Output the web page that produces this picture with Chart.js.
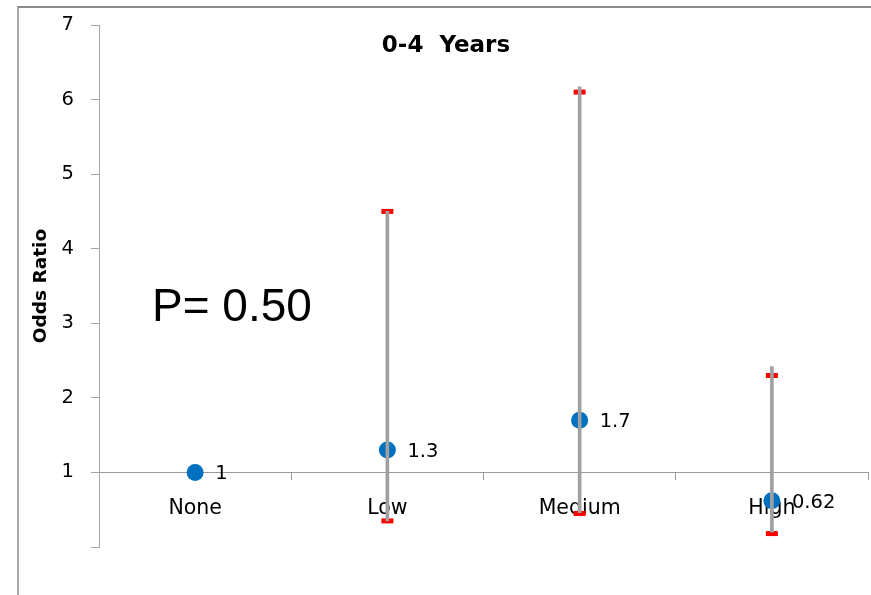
<!DOCTYPE html>
<html>
<head>
<meta charset="utf-8">
<script src="https://cdn.jsdelivr.net/npm/chart.js@4.4.1/dist/chart.umd.min.js"></script>
<style>
  html, body { margin: 0; padding: 0; background: #fff; }
  #wrap { width: 871px; height: 595px; position: relative; }
</style>
</head>
<body>
<div id="wrap"><canvas id="c" width="871" height="595"></canvas></div>
<script>
// Exposure groups and odds ratios with 95% confidence limits
const categories = ['None', 'Low', 'Medium', 'High'];
const oddsRatio = [1, 1.3, 1.7, 0.62];
const ciUpper = [null, 4.5, 6.1, 2.3];
const ciLower = [null, 0.35, 0.45, 0.18];
// high-low line extents for each group
const rangeHigh = [null, 4.5, 6.17, 2.42];
const rangeLow = [null, 0.35, 0.46, 0.2];
const yTicks = [0, 1, 2, 3, 4, 5, 6, 7];
const titleText = '0-4  Years';
const pText = 'P= 0.50';

const FONT = "'DejaVu Sans', sans-serif";

const ranges = categories.map((c, i) => rangeHigh[i] == null ? null : [rangeLow[i], rangeHigh[i]]);

const decorations = {
  id: 'decorations',
  beforeDraw(chart) {
    const ctx = chart.ctx;
    ctx.save();
    ctx.strokeStyle = '#8c8c8c';
    ctx.lineWidth = 2;
    ctx.beginPath();
    ctx.moveTo(18, 7);
    ctx.lineTo(871, 7);
    ctx.stroke();
    ctx.lineWidth = 1.5;
    ctx.beginPath();
    ctx.moveTo(18, 6);
    ctx.lineTo(18, 595);
    ctx.stroke();
    ctx.restore();
  },
  afterDraw(chart) {
    const ctx = chart.ctx;
    ctx.save();
    ctx.fillStyle = '#000';
    ctx.textAlign = 'center';
    ctx.textBaseline = 'middle';
    ctx.font = "bold 23px " + FONT;
    ctx.fillText(titleText, 446, 46);
    ctx.textAlign = 'left';
    ctx.textBaseline = 'alphabetic';
    ctx.font = "46px 'Liberation Sans', Arial, sans-serif";
    ctx.fillText(pText, 152, 321);

    // value labels beside each point
    const meta = chart.getDatasetMeta(0);
    ctx.font = "19.5px " + FONT;
    ctx.textBaseline = 'middle';
    meta.data.forEach((pt, i) => {
      ctx.fillText(String(oddsRatio[i]), pt.x + 20, pt.y + 2);
    });
    ctx.restore();
  }
};

new Chart(document.getElementById('c'), {
  data: {
    labels: categories,
    datasets: [
      {
        type: 'line',
        label: 'Odds ratio',
        data: oddsRatio,
        showLine: false,
        pointRadius: 8.5,
        pointHoverRadius: 8.5,
        pointBackgroundColor: '#0070C0',
        pointBorderColor: '#0070C0',
        pointBorderWidth: 0,
        order: 3
      },
      {
        type: 'line',
        label: 'Upper limit',
        data: ciUpper,
        showLine: false,
        pointStyle: 'line',
        pointRadius: 6,
        pointBorderColor: '#ff0000',
        pointBorderWidth: 5,
        order: 2
      },
      {
        type: 'line',
        label: 'Lower limit',
        data: ciLower,
        showLine: false,
        pointStyle: 'line',
        pointRadius: 6,
        pointBorderColor: '#ff0000',
        pointBorderWidth: 5,
        order: 2
      },
      {
        type: 'bar',
        label: 'Range',
        data: ranges,
        backgroundColor: '#a0a0a0',
        barThickness: 3,
        borderWidth: 0,
        order: 1
      }
    ]
  },
  options: {
    responsive: false,
    animation: false,
    devicePixelRatio: 1,
    layout: { autoPadding: false, padding: { left: 18, top: 25, right: 3, bottom: 48 } },
    plugins: {
      legend: { display: false },
      tooltip: { enabled: false },
      title: { display: false }
    },
    scales: {
      x: {
        type: 'category',
        position: { y: 1 },
        offset: true,
        afterFit(scale) {
          scale.height = 0;
          scale.paddingLeft = 0;
          scale.paddingRight = 0;
          scale.paddingTop = 0;
          scale.paddingBottom = 0;
        },
        grid: {
          offset: true,
          drawOnChartArea: false,
          drawTicks: true,
          tickLength: 7,
          color: '#999999'
        },
        border: { display: true, color: '#999999', width: 1 },
        ticks: {
          color: '#000',
          font: { family: FONT, size: 20.5 },
          padding: 17,
          maxRotation: 0
        }
      },
      y: {
        type: 'linear',
        position: 'left',
        min: 0,
        max: 7,
        afterFit(scale) {
          scale.width = 81;
          scale.paddingTop = 0;
          scale.paddingBottom = 0;
        },
        afterBuildTicks(scale) { scale.ticks = yTicks.map(v => ({ value: v })); },
        grid: {
          drawOnChartArea: false,
          drawTicks: true,
          tickLength: 8,
          color: '#a6a6a6'
        },
        border: { display: true, color: '#a6a6a6', width: 1 },
        ticks: {
          color: '#000',
          font: { family: FONT, size: 19.5 },
          padding: 17,
          callback: v => (v === 0 ? '' : String(v))
        },
        title: {
          display: true,
          text: 'Odds Ratio',
          color: '#000',
          font: { family: FONT, size: 18.5, weight: 'bold' },
          padding: { top: 12, bottom: 0 }
        }
      }
    }
  },
  plugins: [decorations]
});
</script>
</body>
</html>
